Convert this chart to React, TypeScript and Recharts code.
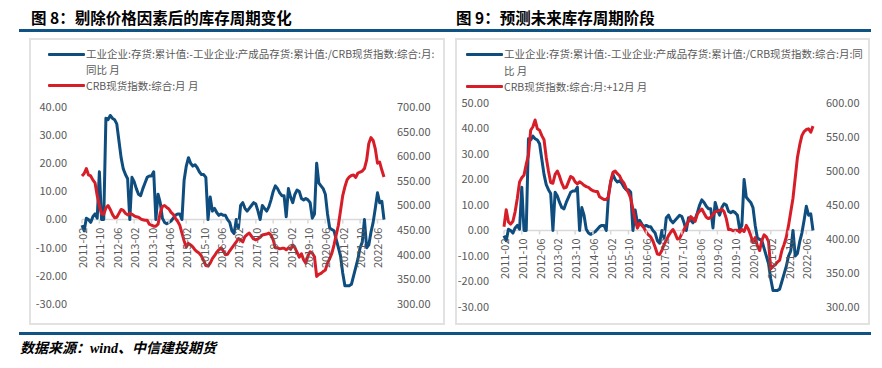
import React from 'react';
import { LineChart, Line, XAxis, YAxis, ReferenceLine } from 'recharts';

const BLUE = '#0E4D7E';
const RED = '#D71E28';
const RULE = '#0F5284';
const GRID = '#D9D9D9';
const TICK = '#595959';
const FONT = "'Noto Sans CJK SC', 'Noto Sans', sans-serif";

// categories: monthly, 2011-02 .. 2022-09
function buildMonths(startYear: number, startMonth: number, count: number): string[] {
  const out: string[] = [];
  let y = startYear;
  let m = startMonth;
  for (let k = 0; k < count; k++) {
    out.push(`${y}-${m < 10 ? '0' + m : m}`);
    m += 1;
    if (m > 12) { m = 1; y += 1; }
  }
  return out;
}
const months = buildMonths(2011, 2, 140);

// 工业企业:存货:累计值:-工业企业:产成品存货:累计值:/CRB现货指数:综合:月:同比 (%)
const inventoryYoY = [
  -2, -4, 0.5, 0, -1, 1, 2, 0.5, 17, 0,
  0, 36, 35.5, 37, 36, 35.5, 34, 28, 22, 18,
  16, 14.5, 0, 15, 13.5, 11, 9, 8.5, 11, 13,
  15, 15.5, 15.5, 17, 0, 9, 6, 0.5, -1, -1.5,
  -1, -0.5, 0.5, 1.5, 2, 2, 0, 14, 19, 22,
  20, 19, 19.5, 18.5, 17, 16, 16, 15, 0, 8,
  3, 4, 2.5, 1.5, 2, 1.5, 1.5, 0, -1, -4,
  -5, 0, -3, 5, 6, 4, 3, 4, 5, 6,
  5.5, 3, 0, 5, 4, 3, 4.5, 7, 10, 12,
  11, 9.5, 8.5, 8.5, 1, 11, 8, 6, 9, 10.5,
  10, 7.5, 7, 7.5, 7, 6, 0.5, 2, 20, 13,
  12, 11, 9, 2, -3, -3.5, -4, -7, -10, -13,
  -19, -23.5, -23.5, -23.5, -23, -20, -17, -14, -10, -8,
  0, -10, -9, -4.5, -1, 4, 9.5, 6, 6.5, 0,
];

// CRB现货指数:综合 (monthly), 2011-02 .. 2022-09
const crbSpot = [
  560, 565, 575, 562, 560, 552, 546, 520, 500, 483,
  482, 495, 500, 492, 482, 475, 476, 484, 492, 490,
  484, 481, 484, 482, 479, 477, 476, 473, 471, 470,
  470, 462, 460, 458, 458, 462, 485, 498, 500, 496,
  493, 486, 482, 474, 468, 460, 444, 428, 416, 423,
  420, 416, 410, 406, 403, 397, 388, 378, 377, 383,
  392, 398, 405, 410, 414, 408, 400, 401, 408, 414,
  420, 426, 433, 430, 426, 437, 441, 444, 438, 432,
  430, 432, 436, 440, 441, 442, 444, 440, 430, 414,
  414, 412, 413, 413, 410, 414, 411, 420, 414, 405,
  395, 402, 390, 383, 398, 406, 403, 396, 356, 360,
  362, 366, 369, 383, 392, 403, 420, 440, 460, 490,
  520, 538, 552, 558, 561, 562, 557, 566, 568, 570,
  575, 592, 626, 638, 632, 615, 586, 588, 572, 558,
];

// CRB现货指数:综合, 2010-02 .. 2011-01 (needed for the +12 month shift)
const crbSpot2010 = [418, 443, 425, 422, 426, 440, 460, 484, 490, 494, 510, 523];
const crbSpotLead12 = [...crbSpot2010, ...crbSpot.slice(0, months.length - 12)];

const fig8LeftTicks = [-30, -20, -10, 0, 10, 20, 30, 40];
const fig8RightTicks = [300, 350, 400, 450, 500, 550, 600, 650, 700];
const fig9LeftTicks = [-30, -20, -10, 0, 10, 20, 30, 40, 50];
const fig9RightTicks = [300, 350, 400, 450, 500, 550, 600];

const fig8Data = months.map((m, i) => ({ month: m, inv: inventoryYoY[i], crb: crbSpot[i] }));
const fig9Data = months.map((m, i) => ({ month: m, inv: inventoryYoY[i], crb: crbSpotLead12[i] }));

const fmt = (v: number) => v.toFixed(2);

type PanelProps = {
  data: any[];
  leftTicks: number[];
  rightTicks: number[];
  left: number;
  margin: { top: number; right: number; bottom: number; left: number };
  leftWidth: number;
  rightWidth: number;
  leftMargin: number;
  rightMargin: number;
};

const CHART_W = 441;
const CHART_H = 330;

function Panel(p: PanelProps) {
  const plotH = CHART_H - p.margin.top - p.margin.bottom - 1;
  const lMin = p.leftTicks[0];
  const lMax = p.leftTicks[p.leftTicks.length - 1];
  const zeroOffset = (plotH * (0 - lMin)) / (lMax - lMin);
  const XTick = (props: any) => {
    const { x, y, payload } = props;
    const zy = y - zeroOffset;
    return (
      <g>
        <line x1={x} x2={x} y1={zy} y2={zy + 4} stroke={GRID} strokeWidth={1.5} />
        <text
          transform={`translate(${x},${zy + 8}) rotate(-90)`}
          textAnchor="end"
          dominantBaseline="central"
          fontSize={11}
          fill={TICK}
          fontFamily={FONT}
        >
          {payload.value}
        </text>
      </g>
    );
  };
  return (
    <div style={{ position: 'absolute', left: p.left, top: 0 }}>
      <LineChart width={CHART_W} height={CHART_H} data={p.data} margin={p.margin}>
        <XAxis
          dataKey="month"
          interval={7}
          height={1}
          axisLine={false}
          tickLine={false}
          tickSize={0}
          tickMargin={0}
          tick={<XTick />}
        />
        <YAxis
          yAxisId="left"
          orientation="left"
          width={p.leftWidth}
          domain={[lMin, lMax]}
          ticks={p.leftTicks}
          interval={0}
          axisLine={false}
          tickLine={false}
          tickSize={0}
          tickMargin={p.leftMargin}
          tickFormatter={fmt}
          tick={{ fontSize: 11, fill: TICK, fontFamily: FONT }}
        />
        <YAxis
          yAxisId="right"
          orientation="right"
          width={p.rightWidth}
          domain={[p.rightTicks[0], p.rightTicks[p.rightTicks.length - 1]]}
          ticks={p.rightTicks}
          interval={0}
          axisLine={false}
          tickLine={false}
          tickSize={0}
          tickMargin={p.rightMargin}
          tickFormatter={fmt}
          tick={{ fontSize: 11, fill: TICK, fontFamily: FONT, textAnchor: 'start' }}
        />
        <ReferenceLine yAxisId="left" y={0} stroke={GRID} strokeWidth={1.5} />
        <Line
          yAxisId="left"
          dataKey="inv"
          type="linear"
          stroke={BLUE}
          strokeWidth={3}
          dot={false}
          activeDot={false}
          strokeLinejoin="round"
          isAnimationActive={false}
        />
        <Line
          yAxisId="right"
          dataKey="crb"
          type="linear"
          stroke={RED}
          strokeWidth={3}
          dot={false}
          activeDot={false}
          strokeLinejoin="round"
          isAnimationActive={false}
        />
      </LineChart>
    </div>
  );
}

const legendText: React.CSSProperties = {
  position: 'absolute',
  fontSize: 10.5,
  lineHeight: '10px',
  color: TICK,
  fontFamily: FONT,
  whiteSpace: 'nowrap',
};

function Swatch({ x, y, color }: { x: number; y: number; color: string }) {
  return (
    <div style={{ position: 'absolute', left: x, top: y - 1.5, width: 37, height: 3, background: color, borderRadius: 1 }} />
  );
}

export default function App() {
  return (
    <div
      style={{
        position: 'absolute',
        left: 0,
        top: 0,
        width: 882,
        height: 368,
        background: '#fff',
        overflow: 'hidden',
        fontFamily: FONT,
      }}
    >
      {/* titles */}
      <div style={{ position: 'absolute', left: 31, top: 7, fontSize: 15.5, fontWeight: 'bold', color: '#000', lineHeight: '20px', whiteSpace: 'nowrap' }}>
        图 8：剔除价格因素后的库存周期变化
      </div>
      <div style={{ position: 'absolute', left: 456, top: 7, fontSize: 15.5, fontWeight: 'bold', color: '#000', lineHeight: '20px', whiteSpace: 'nowrap' }}>
        图 9：预测未来库存周期阶段
      </div>
      <div style={{ position: 'absolute', left: 19, top: 29, width: 852, height: 3, background: RULE }} />
      <div style={{ position: 'absolute', left: 19, top: 332, width: 852, height: 3, background: RULE }} />

      {/* chart boxes */}
      <div style={{ position: 'absolute', left: 29, top: 38, width: 412, height: 283, border: '2px solid #E2E2E2' }} />
      <div style={{ position: 'absolute', left: 455, top: 38, width: 411, height: 283, border: '2px solid #E2E2E2' }} />

      <Panel
        data={fig8Data}
        leftTicks={fig8LeftTicks}
        rightTicks={fig8RightTicks}
        left={0}
        margin={{ top: 107, right: 7, bottom: 25, left: 22 }}
        leftWidth={60}
        rightWidth={50}
        leftMargin={15}
        rightMargin={13}
      />
      <Panel
        data={fig9Data}
        leftTicks={fig9LeftTicks}
        rightTicks={fig9RightTicks}
        left={441}
        margin={{ top: 103, right: 19, bottom: 22, left: 3 }}
        leftWidth={60}
        rightWidth={50}
        leftMargin={15}
        rightMargin={13}
      />

      {/* legend fig 8 */}
      <Swatch x={48} y={54} color={BLUE} />
      <div style={{ ...legendText, left: 86, top: 49 }}>工业企业:存货:累计值:-工业企业:产成品存货:累计值:/CRB现货指数:综合:月:</div>
      <div style={{ ...legendText, left: 86, top: 64.5 }}>同比 月</div>
      <Swatch x={48} y={85.5} color={RED} />
      <div style={{ ...legendText, left: 86, top: 80.5 }}>CRB现货指数:综合:月 月</div>

      {/* legend fig 9 */}
      <Swatch x={466} y={54} color={BLUE} />
      <div style={{ ...legendText, left: 504, top: 49 }}>工业企业:存货:累计值:-工业企业:产成品存货:累计值:/CRB现货指数:综合:月:同</div>
      <div style={{ ...legendText, left: 504, top: 65.5 }}>比 月</div>
      <Swatch x={466} y={86.5} color={RED} />
      <div style={{ ...legendText, left: 504, top: 81.5 }}>CRB现货指数:综合:月:+12月 月</div>

      {/* source */}
      <div
        style={{
          position: 'absolute',
          left: 20,
          top: 340,
          fontSize: 14,
          lineHeight: '18px',
          fontWeight: 'bold',
          fontStyle: 'italic',
          color: '#000',
          fontFamily: "'Liberation Serif', 'Noto Sans CJK SC', serif",
          whiteSpace: 'nowrap',
        }}
      >
        数据来源：wind、中信建投期货
      </div>
    </div>
  );
}
